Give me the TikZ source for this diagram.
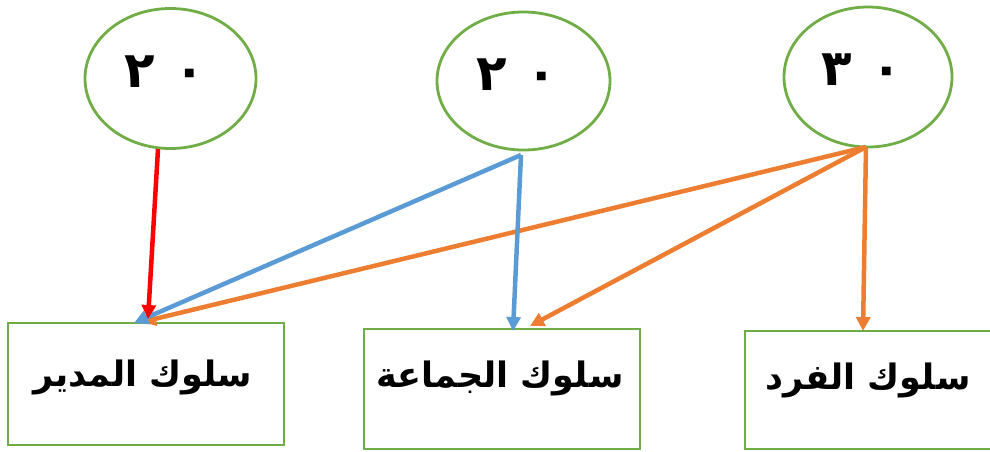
\documentclass[tikz,border=0pt]{standalone}
\usepackage{fontspec}
\usetikzlibrary{shapes.geometric,arrows.meta}
\TeXXeTstate=1
\newfontfamily\arabicfont[Script=Arabic]{DejaVu Sans}
\definecolor{cgreen}{HTML}{70AD47}
\definecolor{cblue}{HTML}{5B9BD5}
\definecolor{corange}{HTML}{ED7D31}
\definecolor{cred}{HTML}{FF0000}
\tikzset{
  circ/.style={draw=cgreen,line width=2.8pt,ellipse,inner sep=0pt},
  boxn/.style={draw=cgreen,line width=2.8pt,rectangle,inner sep=0pt},
  num/.style={font=\arabicfont\bfseries\fontsize{50}{50}\selectfont,inner sep=0pt},
  lbl/.style={font=\arabicfont\bfseries\fontsize{35}{40}\selectfont,inner sep=0pt},
  conn/.style={line width=4.5pt,-{Triangle[length=14pt,width=14pt]}}
}
\begin{document}
\begin{tikzpicture}[x=1pt,y=-1pt]
\useasboundingbox (0,0) rectangle (990,451);
% ellipses
\node[circ,minimum width=171pt,minimum height=140pt] (e1) at (170.5,78.5) {};
\node[circ,minimum width=173pt,minimum height=138pt] (e2) at (523.5,81) {};
\node[circ,minimum width=168pt,minimum height=140pt] (e3) at (868,77) {};
\node[num] (n1) at (165,72) {٢\hspace{20pt}٠};
\node[num] (n2) at (517,75) {٢\hspace{20pt}٠};
\node[num] (n3) at (862,70) {٣\hspace{20pt}٠};
% boxes
\node[boxn,minimum width=276pt,minimum height=122pt] (b1) at (146,384) {};
\node[boxn,minimum width=276pt,minimum height=120pt] (b2) at (502,389) {};
\node[boxn,minimum width=252pt,minimum height=118pt] (b3) at (871,390) {};
\node[lbl] (t1) at (143,377) {\beginR سلوك المدير\endR};
\node[lbl] (t2) at (500,378) {\beginR سلوك الجماعة\endR};
\node[lbl] (t3) at (868,380) {\beginR سلوك الفرد\endR};
% connector ends
\coordinate (s2) at (521,155);
\coordinate (s3) at (866,147);
\coordinate (s1) at (158,149);
\coordinate (p1o) at (142,322);
\coordinate (p1b) at (134,323);
\coordinate (p1r) at (148,319);
\coordinate (p2b) at (513,331);
\coordinate (p2o) at (530,326);
\coordinate (p3o) at (863,331);
% connectors
\draw[conn,corange] (s3) -- (p1o);
\draw[conn,corange] (s3) -- (p2o);
\draw[conn,corange] (s3) -- (p3o);
\draw[conn,cblue] (s2) -- (p1b);
\draw[conn,cblue] (s2) -- (p2b);
\draw[conn,cred] (s1) -- (p1r);
\end{tikzpicture}
\end{document}
